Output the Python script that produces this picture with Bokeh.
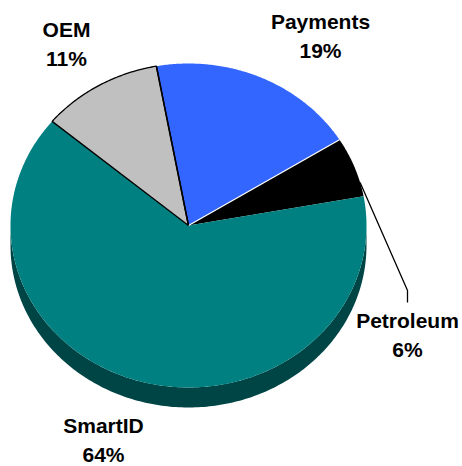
import numpy as np
from bokeh.plotting import figure
from bokeh.models import Range1d, ColumnDataSource
from bokeh.embed import file_html
from bokeh.resources import INLINE
from bokeh.core.properties import value

# ---- data ----
categories = ["Payments", "Petroleum", "SmartID", "OEM"]
shares = [19, 6, 64, 11]
pct_labels = ["19%", "6%", "64%", "11%"]
colors = ["#3366FF", "#000000", "#008080", "#C0C0C0"]

# ---- layout ----
W, H = 462, 466
CX, CY = 188, 225
RX, RY = 178, 162
DEPTH = 20
START = -10.4          # degrees, clockwise from top
SIDE_COLOR = "#004545"
# label anchor positions (name line, percent line below)
label_pos = {
    "Payments": (320, 21),
    "Petroleum": (407, 320),
    "SmartID": (103, 425),
    "OEM": (66, 29),
}
LINE_GAP = 29

def ell(theta_deg, dy=0.0):
    t = np.radians(theta_deg)
    return CX + RX * np.sin(t), CY - RY * np.cos(t) + dy

p = figure(width=W, height=H, x_range=Range1d(0, W), y_range=Range1d(H, 0),
           output_backend="svg", toolbar_location=None, min_border=0,
           x_axis_location=None, y_axis_location=None)
p.grid.visible = False
p.outline_line_color = None
p.background_fill_color = "white"

# side wall (front half of the ellipse)
ang = np.linspace(90, 270, 200)
tx, ty = ell(ang)
bx, by = ell(ang[::-1], DEPTH)
p.patch(np.concatenate([tx, bx]), np.concatenate([ty, by]),
        fill_color=SIDE_COLOR, line_color=None)

# top face slices
vals = np.array(shares, dtype=float)
bounds = START + 360 * np.concatenate([[0], np.cumsum(vals)]) / vals.sum()
xs, ys = [], []
for a0, a1 in zip(bounds[:-1], bounds[1:]):
    a = np.linspace(a0, a1, max(int(a1 - a0) * 2, 8))
    ex, ey = ell(a)
    xs.append(np.concatenate([[CX], ex]).tolist())
    ys.append(np.concatenate([[CY], ey]).tolist())
line_cols = [None, None, None, "black"]
for i in range(len(categories)):
    p.patch(xs[i], ys[i], fill_color=colors[i],
            line_color=line_cols[i], line_width=1.3)

# boundary lines
def radial(angle, color, width):
    ex, ey = ell(angle)
    p.line([CX, ex], [CY, ey], line_color=color, line_width=width)

radial(bounds[1], "white", 1.2)      # Payments / Petroleum
radial(bounds[0], "black", 1.6)      # OEM / Payments

# leader line for Petroleum
lead_angle = bounds[2] - 5
lx, ly = ell(lead_angle)
px, py = label_pos["Petroleum"]
p.line([lx, px, px], [ly, py - 30, py - 18], line_color="black", line_width=1.3)

# labels
names_x = [label_pos[c][0] for c in categories]
names_y = [label_pos[c][1] for c in categories]
src = ColumnDataSource(dict(x=names_x, y=names_y,
                            y2=[v + LINE_GAP for v in names_y],
                            name=categories, pct=pct_labels))
for col, yk in (("name", "y"), ("pct", "y2")):
    p.text(x="x", y=yk, text=col, source=src,
           text_font=value("Liberation Sans"), text_font_style="bold",
           text_font_size="21px", text_align="center",
           text_baseline="middle", text_color="black")

open("out.html", "w").write(file_html(p, INLINE))
